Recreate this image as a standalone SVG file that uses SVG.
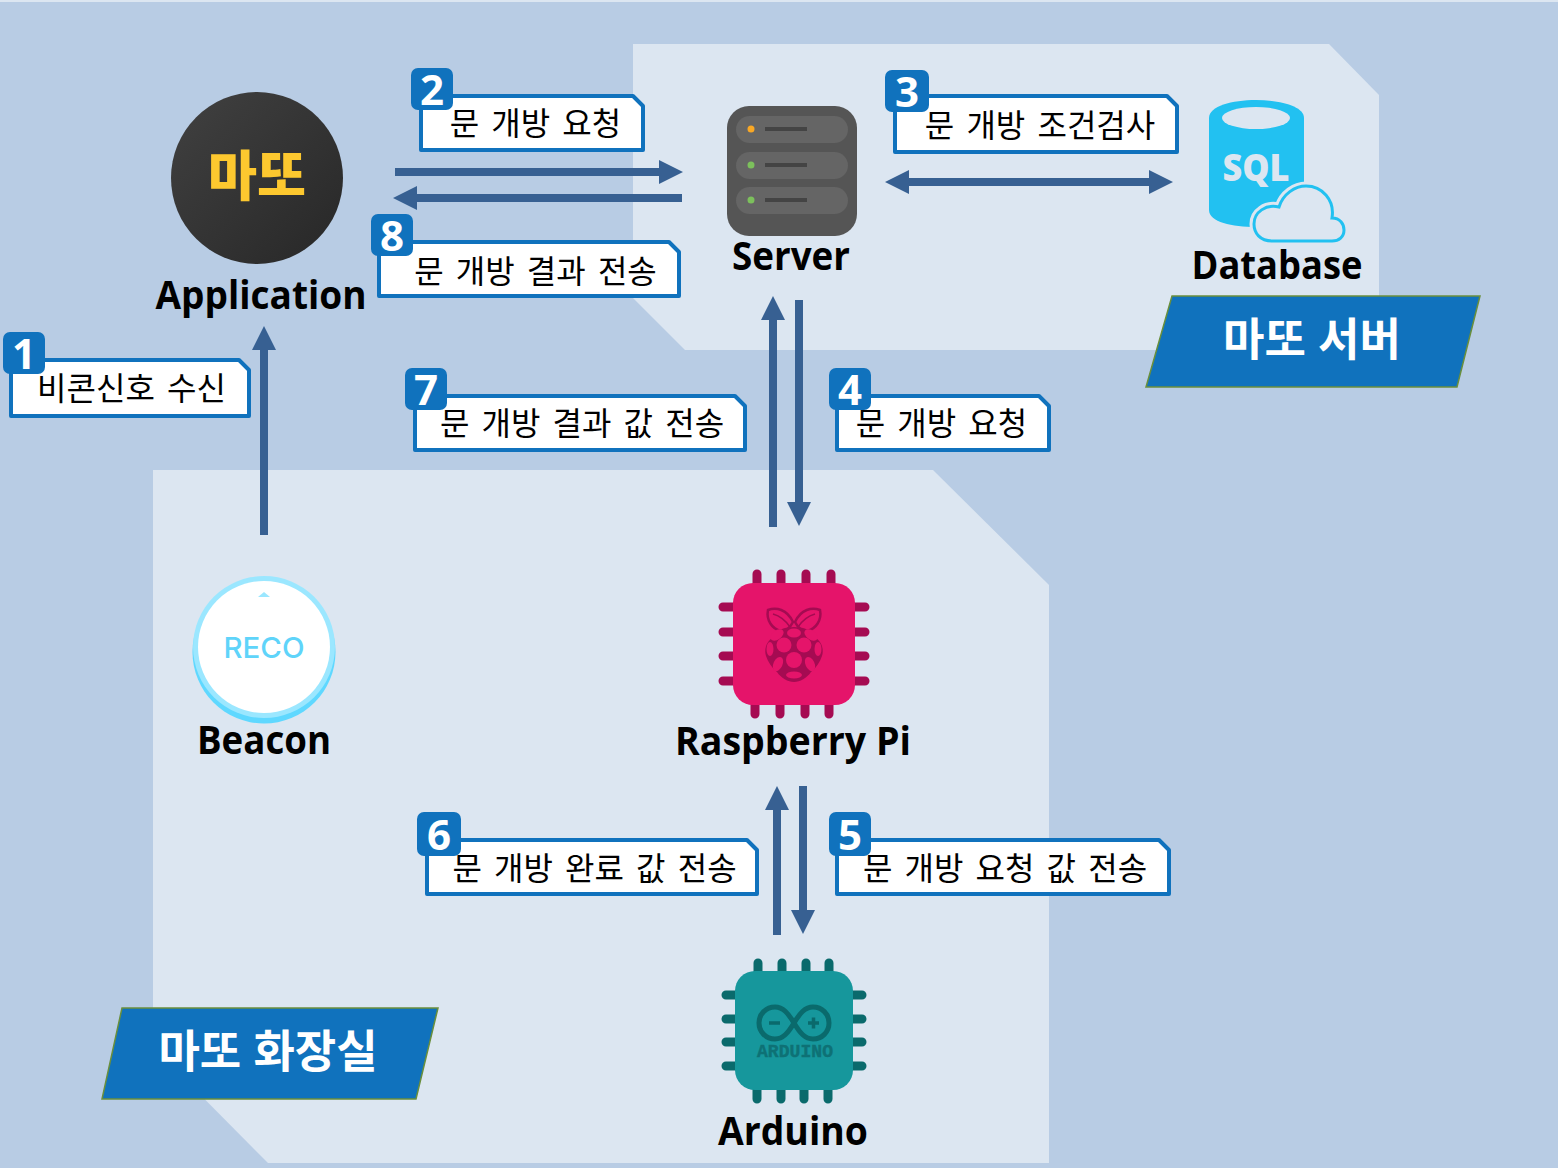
<svg xmlns="http://www.w3.org/2000/svg" width="1558" height="1168" viewBox="0 0 1558 1168">
<style>
.panel{fill:#dce6f1}
.arrow{fill:#376092}
.box{fill:#fff;stroke:#1072bd;stroke-width:4;stroke-linejoin:round}
.badge{fill:#1072bd}
.num{font-family:"Noto Sans","Open Sans",sans-serif;font-weight:700;font-size:42px;fill:#fff;text-anchor:middle}
.lbl{font-family:"Noto Sans CJK KR","Noto Sans",sans-serif;font-size:32px;word-spacing:5px;fill:#000;text-anchor:middle}
.name{font-family:"Open Sans","Noto Sans",sans-serif;font-weight:700;font-size:40px;fill:#000;text-anchor:middle}
.banner{fill:#1072bd;stroke:#6a8f3c;stroke-width:1.5}
.btxt{font-family:"Noto Sans CJK KR",sans-serif;font-weight:700;font-size:45px;word-spacing:2px;fill:#fff;text-anchor:middle}
.rp{stroke:#a50b52;stroke-width:9;stroke-linecap:round;fill:none}
.ap{stroke:#0a6a6c;stroke-width:9;stroke-linecap:round;fill:none}
.berry{fill:#e5146a}
.leaf{fill:#e5146a;stroke:#a50b52;stroke-width:2.500}
.vein{fill:none;stroke:#a50b52;stroke-width:1.500}
.bar{fill:#656565}
.barline{fill:#444}
</style>
<defs>
<linearGradient id="appfill" x1="0" y1="0" x2="1" y2="1"><stop offset="0" stop-color="#414141"/><stop offset="1" stop-color="#272727"/></linearGradient>
</defs>
<rect width="1558" height="1168" fill="#b8cce4"/>
<rect width="1558" height="2" fill="#dce6f1"/>
<polygon class="panel" points="633,44 1329,44 1379,95 1379,350 685,350 633,298"/>
<polygon class="panel" points="153,470 933,470 1049,585 1049,1163 268,1163 153,1047"/>

<g id="connectors">
<path class="arrow" d="M395,168H659V160L683,172L659,184V176H395Z"/>
<path class="arrow" d="M682,194H417V186L393,198L417,210V202H682Z"/>
<path class="arrow" d="M885,182L909,170V178H1149V170L1173,182L1149,194V186H909V194Z"/>
<path class="arrow" d="M260,535V350H252L264,326L276,350H268V535Z"/>
<path class="arrow" d="M769,527V320H761L773,296L785,320H777V527Z"/>
<path class="arrow" d="M795,300V502H787L799,526L811,502H803V300Z"/>
<path class="arrow" d="M773,935V810H765L777,786L789,810H781V935Z"/>
<path class="arrow" d="M799,786V910H791L803,934L815,910H807V786Z"/>
</g>

<g id="application">
<circle cx="257" cy="178" r="86" fill="url(#appfill)"/>
<text x="257" y="196" font-family="Noto Sans CJK KR,sans-serif" font-weight="900" font-size="54" fill="#fdc82f" text-anchor="middle" textLength="98" lengthAdjust="spacingAndGlyphs">마또</text>
<text class="name" x="261" y="309" textLength="211" lengthAdjust="spacingAndGlyphs">Application</text>
</g>

<g id="server">
<rect x="727" y="106" width="130" height="130" rx="22" fill="#555"/>
<rect class="bar" x="736" y="116" width="112" height="27" rx="13.5"/>
<rect class="bar" x="736" y="152" width="112" height="27" rx="13.5"/>
<rect class="bar" x="736" y="187" width="112" height="27" rx="13.5"/>
<circle cx="751" cy="129" r="3.5" fill="#f9a825"/>
<circle cx="751" cy="165" r="3.5" fill="#7cc05c"/>
<circle cx="751" cy="200" r="3.5" fill="#7cc05c"/>
<rect class="barline" x="765" y="127" width="42" height="4"/>
<rect class="barline" x="765" y="163" width="42" height="4"/>
<rect class="barline" x="765" y="198" width="42" height="4"/>
<text class="name" x="791" y="270" textLength="118" lengthAdjust="spacingAndGlyphs">Server</text>
</g>

<g id="database">
<path d="M1209,118C1209,106 1232,100 1256,100C1280,100 1304,106 1304,118V215C1304,222 1280,227 1256,227C1232,227 1209,222 1209,210Z" fill="#22c1f1"/>
<ellipse cx="1256" cy="118" rx="34" ry="11" fill="#dce6f1"/>
<text x="1256" y="181" font-family="Noto Sans,sans-serif" font-weight="900" font-size="37" fill="#dce6f1" text-anchor="middle" textLength="67" lengthAdjust="spacingAndGlyphs">SQL</text>
<path d="M1272,241C1260,241 1254,233 1254,224C1254,212 1266,204 1279,207C1283,194 1295,186 1306,186C1322,186 1335,200 1332,218C1340,218 1344,224 1344,230C1344,237 1339,241 1332,241Z" fill="#dce6f1" stroke="#dce6f1" stroke-width="9"/>
<path d="M1272,241C1260,241 1254,233 1254,224C1254,212 1266,204 1279,207C1283,194 1295,186 1306,186C1322,186 1335,200 1332,218C1340,218 1344,224 1344,230C1344,237 1339,241 1332,241Z" fill="#dce6f1" stroke="#22c1f1" stroke-width="3"/>
<text class="name" x="1277" y="279" textLength="171" lengthAdjust="spacingAndGlyphs">Database</text>
</g>

<g id="beacon">
<circle cx="264" cy="652" r="71.5" fill="#5fd8ff"/>
<circle cx="264" cy="647" r="71" fill="#9be7ff"/>
<circle cx="264" cy="647" r="66" fill="#fff"/>
<polygon points="258,597 264,592 270,597" fill="#9be7ff"/>
<text x="264" y="658" font-family="Inter,sans-serif" font-weight="500" font-size="29" fill="#5fd4fa" text-anchor="middle" textLength="81" lengthAdjust="spacingAndGlyphs">RECO</text>
<text class="name" x="264" y="754" textLength="134" lengthAdjust="spacingAndGlyphs">Beacon</text>
</g>

<g id="raspberry-pi">
<path class="rp" d="M757,574V590M781,574V590M806,574V590M831,574V590M755,714V698M780,714V698M805,714V698M829,714V698M723,607H740M723,632H740M723,656H740M723,681H740M865,607H848M865,632H848M865,656H848M865,681H848"/>
<rect x="733" y="583" width="122" height="122" rx="20" fill="#e5146a"/>
<path class="leaf" d="M768,610C776,607 787,609 793,622C790,628 786,631 781,631C772,629 766,620 768,610Z"/>
<path class="leaf" d="M820,610C812,607 801,609 795,622C798,628 802,631 807,631C816,629 822,620 820,610Z"/>
<path class="vein" d="M773,614C780,616 786,621 790,627M815,614C808,616 802,621 798,627"/>
<path d="M794,627C786,627 774,630 772,638C766,642 764,650 766,656C768,662 772,668 777,672C781,678 788,682 794,682C800,682 807,678 811,672C816,668 820,662 822,656C824,650 822,642 816,638C814,630 802,627 794,627Z" fill="#a50b52"/>
<ellipse class="berry" cx="777" cy="635" rx="7.500" ry="4.500" transform="rotate(-35 777 635)"/>
<ellipse class="berry" cx="811" cy="635" rx="7.500" ry="4.500" transform="rotate(35 811 635)"/>
<ellipse class="berry" cx="794" cy="633" rx="7" ry="4.500"/>
<ellipse class="berry" cx="770" cy="649" rx="3.500" ry="7"/>
<ellipse class="berry" cx="818" cy="649" rx="3.500" ry="7"/>
<circle class="berry" cx="784" cy="645" r="7.500"/>
<circle class="berry" cx="804" cy="645" r="7.500"/>
<ellipse class="berry" cx="778" cy="664" rx="4.500" ry="7.500" transform="rotate(25 778 664)"/>
<ellipse class="berry" cx="810" cy="664" rx="4.500" ry="7.500" transform="rotate(-25 810 664)"/>
<circle class="berry" cx="794" cy="660" r="8"/>
<ellipse class="berry" cx="794" cy="675" rx="8" ry="3.500"/>
<text class="name" x="793" y="755" textLength="236" lengthAdjust="spacingAndGlyphs">Raspberry Pi</text>
</g>

<g id="arduino">
<path class="ap" d="M758,963V978M782,963V978M806,963V978M829,963V978M757,1099V1084M781,1099V1084M804,1099V1084M828,1099V1084M726,995H742M726,1019H742M726,1042H742M726,1066H742M862,995H846M862,1019H846M862,1042H846M862,1066H846"/>
<rect x="735" y="971" width="118" height="119" rx="20" fill="#16979c"/>
<path d="M794,1023C788,1013 783,1007 775,1007C766,1007 759,1014 759,1023C759,1032 766,1039 775,1039C783,1039 788,1033 794,1023C800,1013 805,1007 813,1007C822,1007 829,1014 829,1023C829,1032 822,1039 813,1039C805,1039 800,1033 794,1023Z" fill="none" stroke="#0a6a6c" stroke-width="5"/>
<path d="M769,1023H780M808,1023H819M813.500,1017.500V1028.500" fill="none" stroke="#0a6a6c" stroke-width="3.500"/>
<text x="795" y="1057" font-family="Liberation Mono,monospace" font-weight="700" font-size="18" fill="#0e7175" stroke="#0e7175" stroke-width=".4" text-anchor="middle" textLength="76" lengthAdjust="spacingAndGlyphs">ARDUINO</text>
<text class="name" x="793" y="1145" textLength="150" lengthAdjust="spacingAndGlyphs">Arduino</text>
</g>

<g id="step1">
<path class="box" d="M11,360H239L249,370V416H11Z"/>
<text class="lbl" x="131.500" y="400">비콘신호 수신</text>
<rect class="badge" x="3" y="332" width="42" height="42" rx="7"/>
<text class="num" x="24" y="369">1</text>
</g>
<g id="step2">
<path class="box" d="M421,96H633L643,106V150H421Z"/>
<text class="lbl" x="535.500" y="135">문 개방 요청</text>
<rect class="badge" x="411" y="68" width="42" height="42" rx="7"/>
<text class="num" x="432" y="105">2</text>
</g>
<g id="step3">
<path class="box" d="M895,96H1167L1177,106V152H895Z"/>
<text class="lbl" x="1040" y="137">문 개방 조건검사</text>
<rect class="badge" x="885" y="70" width="44" height="42" rx="7"/>
<text class="num" x="907" y="107">3</text>
</g>
<g id="step4">
<path class="box" d="M837,396H1039L1049,406V450H837Z"/>
<text class="lbl" x="941.500" y="435">문 개방 요청</text>
<rect class="badge" x="829" y="368" width="42" height="42" rx="7"/>
<text class="num" x="850" y="405">4</text>
</g>
<g id="step5">
<path class="box" d="M837,840H1159L1169,850V894H837Z"/>
<text class="lbl" x="1005" y="880">문 개방 요청 값 전송</text>
<rect class="badge" x="829" y="812" width="42" height="44" rx="7"/>
<text class="num" x="850" y="850">5</text>
</g>
<g id="step6">
<path class="box" d="M427,840H747L757,850V894H427Z"/>
<text class="lbl" x="594.500" y="880">문 개방 완료 값 전송</text>
<rect class="badge" x="417" y="812" width="44" height="44" rx="7"/>
<text class="num" x="439" y="850">6</text>
</g>
<g id="step7">
<path class="box" d="M415,396H735L745,406V450H415Z"/>
<text class="lbl" x="582" y="435">문 개방 결과 값 전송</text>
<rect class="badge" x="405" y="368" width="42" height="42" rx="7"/>
<text class="num" x="426" y="405">7</text>
</g>
<g id="step8">
<path class="box" d="M379,242H669L679,252V296H379Z"/>
<text class="lbl" x="535.500" y="283">문 개방 결과 전송</text>
<rect class="badge" x="371" y="214" width="42" height="42" rx="7"/>
<text class="num" x="392" y="251">8</text>
</g>

<g id="banner-server">
<polygon class="banner" points="1172,296 1480,296 1457,387 1146,387"/>
<text class="btxt" x="1312" y="356">마또 서버</text>
</g>
<g id="banner-room">
<polygon class="banner" points="122,1008 438,1008 416,1099 102,1099"/>
<text class="btxt" x="268" y="1068">마또 화장실</text>
</g>
</svg>
